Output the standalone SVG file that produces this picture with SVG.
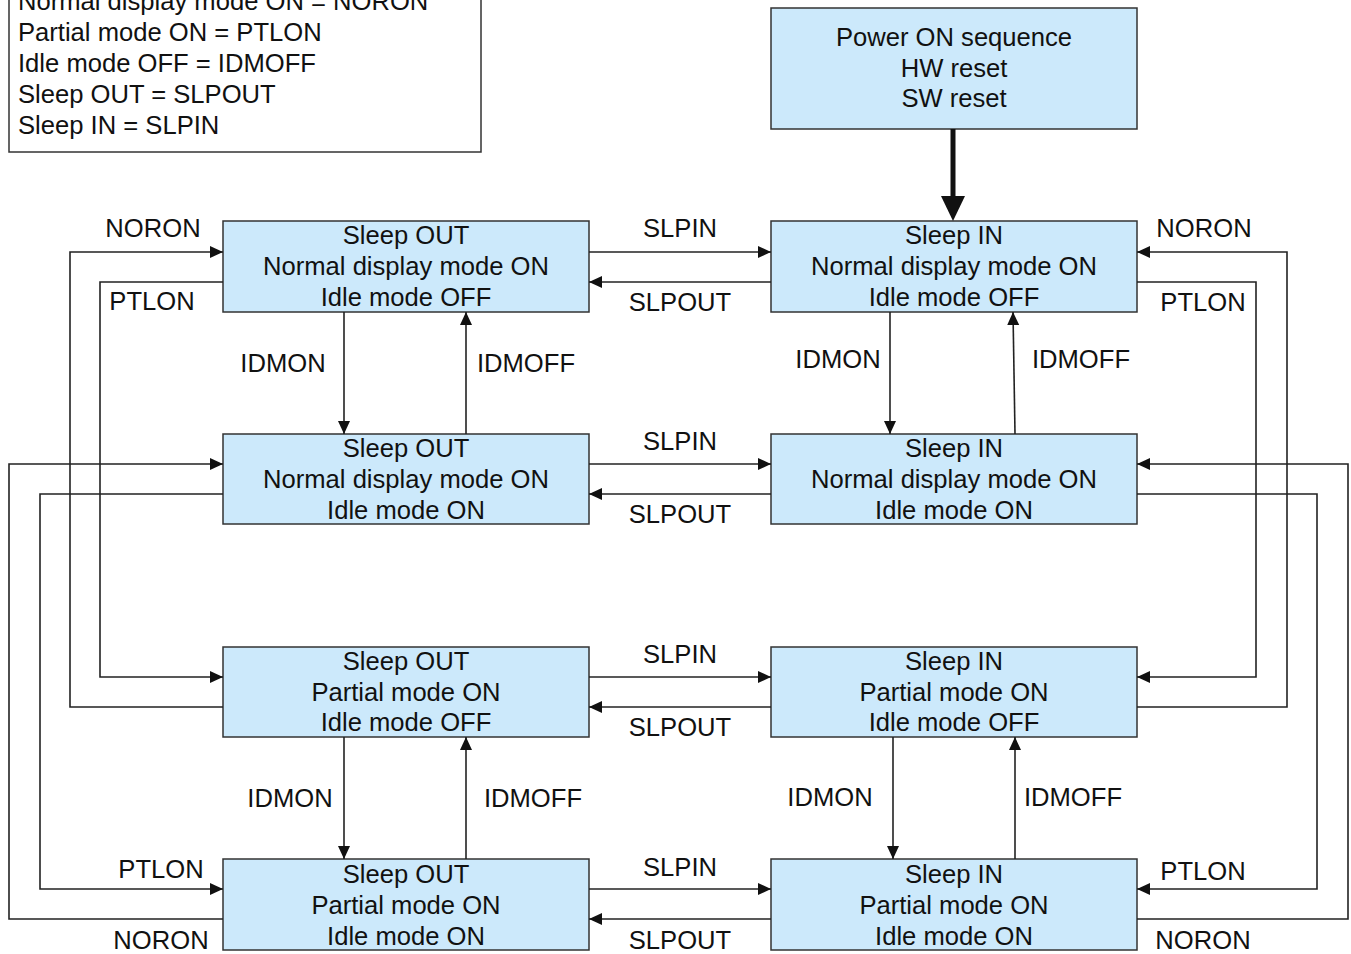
<svg xmlns="http://www.w3.org/2000/svg" width="1351" height="954" viewBox="0 0 1351 954">
<style>
text{font-family:"Liberation Sans",Arial,sans-serif;font-size:25.6px;fill:#111;}
.c{text-anchor:middle;}
.box{fill:#cce9fb;stroke:#333;stroke-width:1.5;}
.ln{fill:none;stroke:#222;stroke-width:1.6;marker-end:url(#ah);}
</style>
<defs>
<marker id="ah" markerUnits="userSpaceOnUse" markerWidth="14" markerHeight="13" refX="13" refY="6" orient="auto">
<path d="M0,0 L13,6 L0,12 z" fill="#111"/>
</marker>
</defs>
<rect width="1351" height="954" fill="#fff"/>
<g id="legend">
<rect x="9" y="-20" width="472" height="172" fill="#fff" stroke="#333" stroke-width="1.5"/>
<text x="18" y="10">Normal display mode ON = NORON</text>
<text x="18" y="41">Partial mode ON = PTLON</text>
<text x="18" y="72">Idle mode OFF = IDMOFF</text>
<text x="18" y="103">Sleep OUT = SLPOUT</text>
<text x="18" y="134">Sleep IN = SLPIN</text>
</g>
<g id="power">
<rect class="box" x="771" y="8" width="366" height="121"/>
<text class="c" x="954" y="46">Power ON sequence</text>
<text class="c" x="954" y="77">HW reset</text>
<text class="c" x="954" y="107">SW reset</text>
</g>
<g id="out_norm_idleoff">
<rect class="box" x="223" y="221" width="366" height="91"/>
<text class="c" x="406" y="244">Sleep OUT</text>
<text class="c" x="406" y="275">Normal display mode ON</text>
<text class="c" x="406" y="306">Idle mode OFF</text>
</g>
<g id="in_norm_idleoff">
<rect class="box" x="771" y="221" width="366" height="91"/>
<text class="c" x="954" y="244">Sleep IN</text>
<text class="c" x="954" y="275">Normal display mode ON</text>
<text class="c" x="954" y="306">Idle mode OFF</text>
</g>
<g id="out_norm_idleon">
<rect class="box" x="223" y="434" width="366" height="90"/>
<text class="c" x="406" y="457">Sleep OUT</text>
<text class="c" x="406" y="488">Normal display mode ON</text>
<text class="c" x="406" y="519">Idle mode ON</text>
</g>
<g id="in_norm_idleon">
<rect class="box" x="771" y="434" width="366" height="90"/>
<text class="c" x="954" y="457">Sleep IN</text>
<text class="c" x="954" y="488">Normal display mode ON</text>
<text class="c" x="954" y="519">Idle mode ON</text>
</g>
<g id="out_part_idleoff">
<rect class="box" x="223" y="647" width="366" height="90"/>
<text class="c" x="406" y="670">Sleep OUT</text>
<text class="c" x="406" y="701">Partial mode ON</text>
<text class="c" x="406" y="731">Idle mode OFF</text>
</g>
<g id="in_part_idleoff">
<rect class="box" x="771" y="647" width="366" height="90"/>
<text class="c" x="954" y="670">Sleep IN</text>
<text class="c" x="954" y="701">Partial mode ON</text>
<text class="c" x="954" y="731">Idle mode OFF</text>
</g>
<g id="out_part_idleon">
<rect class="box" x="223" y="859" width="366" height="91"/>
<text class="c" x="406" y="883">Sleep OUT</text>
<text class="c" x="406" y="914">Partial mode ON</text>
<text class="c" x="406" y="945">Idle mode ON</text>
</g>
<g id="in_part_idleon">
<rect class="box" x="771" y="859" width="366" height="91"/>
<text class="c" x="954" y="883">Sleep IN</text>
<text class="c" x="954" y="914">Partial mode ON</text>
<text class="c" x="954" y="945">Idle mode ON</text>
</g>
<g id="connectors">
<path d="M953,129 L953,197" fill="none" stroke="#111" stroke-width="5"/>
<path d="M941,196 L965,196 L953,221 z" fill="#111"/>
<path class="ln" d="M589,252 L771,252"/>
<path class="ln" d="M771,282 L589,282"/>
<path class="ln" d="M589,464 L771,464"/>
<path class="ln" d="M771,494 L589,494"/>
<path class="ln" d="M589,677 L771,677"/>
<path class="ln" d="M771,707 L589,707"/>
<path class="ln" d="M589,889 L771,889"/>
<path class="ln" d="M771,919 L589,919"/>
<path class="ln" d="M344,312 L344,434"/>
<path class="ln" d="M466,434 L466,312"/>
<path class="ln" d="M890,312 L890,434"/>
<path class="ln" d="M1015,434 L1013,312"/>
<path class="ln" d="M344,737 L344,859"/>
<path class="ln" d="M466,859 L466,737"/>
<path class="ln" d="M893,737 L893,859"/>
<path class="ln" d="M1015,859 L1015,737"/>
<path class="ln" d="M223,707 L70,707 L70,252 L223,252"/>
<path class="ln" d="M223,282 L100,282 L100,677 L223,677"/>
<path class="ln" d="M223,919 L9,919 L9,464 L223,464"/>
<path class="ln" d="M223,494 L40,494 L40,889 L223,889"/>
<path class="ln" d="M1137,707 L1287,707 L1287,252 L1137,252"/>
<path class="ln" d="M1137,282 L1256,282 L1256,677 L1137,677"/>
<path class="ln" d="M1137,919 L1348,919 L1348,464 L1137,464"/>
<path class="ln" d="M1137,494 L1317,494 L1317,889 L1137,889"/>
</g>
<g id="labels">
<text class="c" x="680" y="237">SLPIN</text>
<text class="c" x="680" y="311">SLPOUT</text>
<text class="c" x="680" y="450">SLPIN</text>
<text class="c" x="680" y="523">SLPOUT</text>
<text class="c" x="680" y="663">SLPIN</text>
<text class="c" x="680" y="736">SLPOUT</text>
<text class="c" x="680" y="876">SLPIN</text>
<text class="c" x="680" y="949">SLPOUT</text>
<text class="c" x="283" y="372">IDMON</text>
<text class="c" x="526" y="372">IDMOFF</text>
<text class="c" x="838" y="368">IDMON</text>
<text class="c" x="1081" y="368">IDMOFF</text>
<text class="c" x="290" y="807">IDMON</text>
<text class="c" x="533" y="807">IDMOFF</text>
<text class="c" x="830" y="806">IDMON</text>
<text class="c" x="1073" y="806">IDMOFF</text>
<text class="c" x="153" y="237">NORON</text>
<text class="c" x="152" y="310">PTLON</text>
<text class="c" x="161" y="878">PTLON</text>
<text class="c" x="161" y="949">NORON</text>
<text class="c" x="1204" y="237">NORON</text>
<text class="c" x="1203" y="311">PTLON</text>
<text class="c" x="1203" y="880">PTLON</text>
<text class="c" x="1203" y="949">NORON</text>
</g>
</svg>
